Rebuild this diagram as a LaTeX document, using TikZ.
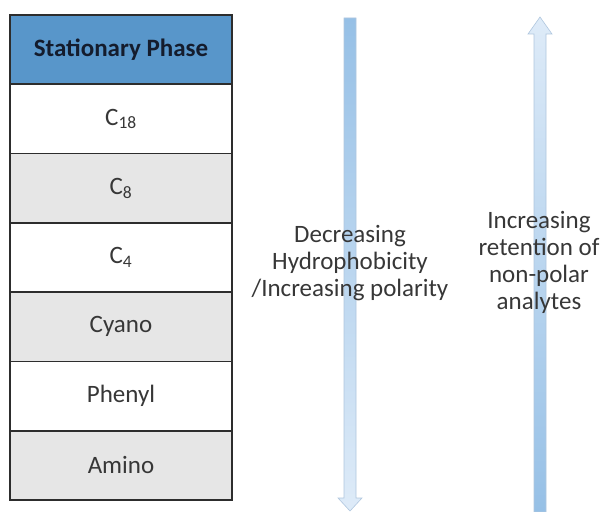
\documentclass[tikz,border=0pt]{standalone}
\usepackage{fontspec}
\setmainfont{Carlito}
\usetikzlibrary{positioning}
\definecolor{headblue}{RGB}{88,150,202}
\definecolor{rowgrey}{RGB}{230,230,230}
\definecolor{gridline}{RGB}{45,45,45}
\definecolor{arrowdark}{RGB}{150,192,230}
\definecolor{arrowlight}{RGB}{222,235,248}
\definecolor{arrowedge}{RGB}{175,198,222}
\definecolor{textgrey}{RGB}{55,55,55}
\definecolor{headtext}{RGB}{20,28,45}

\begin{document}
\begin{tikzpicture}[x=1pt,y=-1pt,node distance=69.3pt,font=\fontsize{25}{27}\selectfont]
  \tikzstyle{cell}=[draw=gridline,line width=1.6pt,minimum width=222pt,minimum height=69.3pt,outer sep=0pt,inner sep=0pt,text=textgrey]
  \tikzstyle{plain}=[cell,fill=white]
  \tikzstyle{shaded}=[cell,fill=rowgrey]
  \tikzstyle{label}=[align=center,text=textgrey,inner sep=0pt]
  \tikzstyle{bar}=[draw=arrowedge,line width=0.6pt]

  \useasboundingbox (0,0) rectangle (604,511);

  % stationary phases
  \node[cell,fill=headblue,text=headtext,font=\fontsize{25}{27}\selectfont\bfseries] (head) at (121,49.6) {Stationary Phase};
  \node[plain]  (c18)    [below of=head]   {C\textsubscript{18}};
  \node[shaded] (c8)     [below of=c18]    {C\textsubscript{8}};
  \node[plain]  (c4)     [below of=c8]     {C\textsubscript{4}};
  \node[shaded] (cyano)  [below of=c4]     {Cyano};
  \node[plain]  (phenyl) [below of=cyano]  {Phenyl};
  \node[shaded] (amino)  [below of=phenyl] {Amino};

  % trend arrows
  \shade[bar,top color=arrowdark,bottom color=arrowlight]
    (344,18) -- (356,18) -- (356,498) -- (362,498) -- (350,511) -- (338,498) -- (344,498) -- cycle;
  \shade[bar,top color=arrowlight,bottom color=arrowdark]
    (540,17) -- (552,34) -- (546,34) -- (546,512) -- (534,512) -- (534,34) -- (528,34) -- cycle;

  \node[label] (polar)     at (350,263) {Decreasing\\Hydrophobicity\\/Increasing polarity};
  \node[label] (retention) at (539,262) {Increasing\\retention of\\non-polar\\analytes};
\end{tikzpicture}
\end{document}
